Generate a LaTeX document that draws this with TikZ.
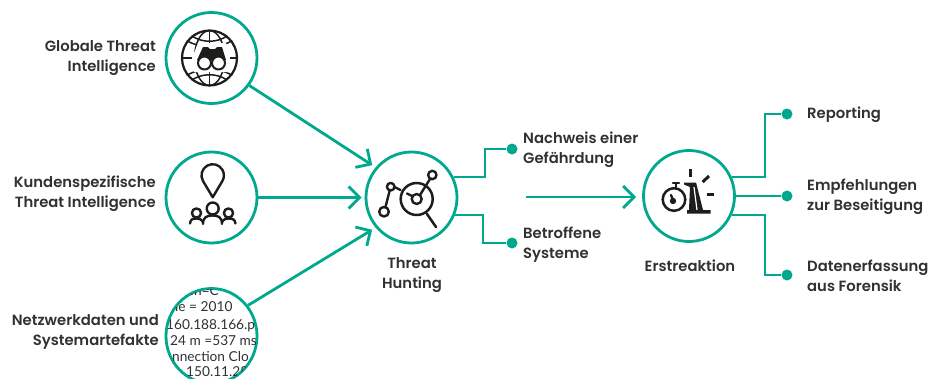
\documentclass[tikz,border=0pt]{standalone}
\usepackage{fontspec}
\setmainfont{Poppins SemiBold}
\newfontfamily\logfont{Lato}
\usetikzlibrary{arrows.meta,shapes.geometric}
\definecolor{kgreen}{HTML}{00A88E}
\definecolor{ktext}{HTML}{2F3133}
\definecolor{kicon}{HTML}{1D1D1B}
\tikzset{
  hub/.style={circle,draw=kgreen,line width=2.8pt,fill=white,minimum size=91pt,inner sep=0pt},
  ovalhub/.style={ellipse,draw=kgreen,line width=2.8pt,fill=white,minimum width=91pt,minimum height=95pt,inner sep=0pt},
  conn/.style={draw=kgreen,line width=2.8pt},
  arr/.style={conn,-{Straight Barb[length=11pt,width=22pt,line width=2.8pt]}},
  enddot/.style={circle,fill=kgreen,minimum size=11pt,inner sep=0pt},
  lab/.style={font=\fontsize{14.8pt}{20pt}\selectfont,text=ktext,inner sep=0pt},
  labr/.style={lab,anchor=east,align=right},
  labl/.style={lab,anchor=west,align=left},
  labc/.style={lab,anchor=center,align=center},
  ico/.style={draw=kicon,line width=2.4pt,line cap=round,line join=round},
  logt/.style={font=\logfont\fontsize{13.7pt}{14pt}\selectfont,text=ktext,inner sep=0pt,anchor=base west},
}
\begin{document}
\begin{tikzpicture}[x=1pt,y=-1pt]
\useasboundingbox (0,0) rectangle (930,378);
% hubs
\node[hub] (c1) at (211.5,58) {};
\node[hub] (c2) at (211.5,197.5) {};
\node[ovalhub] (c3) at (211.5,336) {};
\node[hub] (c4) at (411.5,197.5) {};
\node[hub] (c5) at (689,196) {};
% log text in hub 3
\begin{scope}
\clip (211.5,336) ellipse (44.8pt and 47pt);
\node[logt] (l1) at (188,295.5) {sn=C};
\node[logt] (l2) at (175,311) {ie = 2010};
\node[logt] (l3) at (166,329) {160.188.166.p};
\node[logt] (l4) at (170,345) {24 m =537 ms};
\node[logt] (l5) at (172,361) {nnection Clo};
\node[logt] (l6) at (186,376.5) {150.11.28};
\end{scope}
% endpoints
\node[enddot] (d1) at (512,149) {};
\node[enddot] (d2) at (512,243) {};
\node[enddot] (d3) at (787,114) {};
\node[enddot] (d4) at (787,196) {};
\node[enddot] (d5) at (787,275) {};
\coordinate (m1) at (526,197);
% arrows
\draw[arr,shorten >=4pt] (c1.-36.5) -- (c4.140);
\draw[arr,shorten >=3pt] (c2.east) -- (c4.west);
\draw[arr,shorten >=4pt] (c3.40) -- (c4.220);
\draw[arr,shorten >=6pt] (m1) -- (m1-|c5.west);
% branches
\draw[conn] (c4.26) -| (485,149) -- (d1);
\draw[conn] (c4.-22) -| (483,243) -- (d2);
\draw[conn] (c5.24) -| (765,114) -- (d3);
\draw[conn] (c5.east) -- (d4);
\draw[conn] (c5.-24) -| (765,275) -- (d5);
% labels
\node[labr] (t1) at (156,58) {Globale Threat\\Intelligence};
\node[labr] (t2) at (156,194) {Kundenspezifische\\Threat Intelligence};
\node[labr] (t3) at (159,331.5) {Netzwerkdaten und\\Systemartefakte};
\node[labc] (t4) at (412,275) {Threat\\Hunting};
\node[labl] (t5) at (523,150) {Nachweis einer\\Gefährdung};
\node[labl] (t6) at (523,245) {Betroffene\\Systeme};
\node[labc] (t7) at (690,266) {Erstreaktion};
\node[labl] (t8) at (807,115) {Reporting};
\node[labl] (t9) at (807,197) {Empfehlungen\\zur Beseitigung};
\node[labl] (t10) at (807,276) {Datenerfassung\\aus Forensik};
% icon: globe and binoculars
\begin{scope}[ico,line width=1.5pt]
\draw[line width=2.2pt] (209.5,58) circle (27.5pt);
\draw (209.5,58) ellipse (15pt and 27.5pt);
\draw (187,41) .. controls (200,48) and (219,48) .. (232,41);
\draw (187,75) .. controls (200,68) and (219,68) .. (232,75);
\draw (192,36) .. controls (202,43) and (217,43) .. (227,36);
\draw (192,80) .. controls (202,73) and (217,73) .. (227,80);
\draw (209.5,30.5) -- (209.5,85.5);
\draw (182,58) -- (237,58);
\end{scope}
\fill[white] (198,43) -- (226,43) -- (230,58) -- (228,72) -- (194,72) -- (192,58) -- cycle;
\fill[kicon] (203,47) -- (208,47) -- (210,49) -- (215,49) -- (217,47) -- (222,47) -- (226,60) -- (197,60) -- cycle;
\draw[ico,fill=white,line width=2pt] (204.5,63) circle (6.5pt);
\draw[ico,fill=white,line width=2pt] (218.5,63) circle (6.5pt);
% icon: pin and people
\draw[ico] (212.7,197.3) -- (203,181) arc[start angle=210,end angle=-30,radius=11.2pt] -- cycle;
\draw[ico] (196.5,213) circle (4.6pt);
\draw[ico] (228.5,213) circle (4.6pt);
\draw[ico] (212.7,208.5) circle (6pt);
\draw[ico] (190,223.5) .. controls (190.5,219) and (193,218.5) .. (196.5,218.5) .. controls (199,218.5) and (201,219) .. (203,222);
\draw[ico] (235.5,223.5) .. controls (235,219) and (232,218.5) .. (228.5,218.5) .. controls (226,218.5) and (224,219) .. (222,222);
\draw[ico] (203,224) .. controls (203,217) and (207,215.5) .. (212.7,215.5) .. controls (218,215.5) and (222,217) .. (222,224);
% icon: threat hunting
\draw[ico,line width=2.5pt] (416.7,199) circle (16pt);
\draw[ico] (416.7,199) circle (5pt);
\draw[ico,line width=2.5pt] (427,214) -- (436,227);
\draw[ico] (420,195) -- (430,179);
\draw[ico] (432.3,175) circle (4.2pt);
\draw[ico] (407,193.5) -- (412,196);
\draw[ico] (394.5,187) -- (400.5,190);
\draw[ico] (390.7,186.7) circle (3.8pt);
\draw[ico] (384,211.7) circle (4.8pt);
\draw[ico] (389.7,190.5) -- (385.5,207);
% icon: first response
\draw[ico,line width=2.5pt] (674,199.5) circle (11.3pt);
\draw[ico,line width=2.5pt] (673,183) -- (679,183);
\draw[ico] (676,184) -- (676,187);
\fill[kicon] (673,201) circle (3.2pt);
\draw[ico] (673,200) -- (671,195);
\fill[kicon] (684,182.5) -- (696,182.5) -- (703,210) -- (710.5,210) -- (710.5,213.5) -- (687,213.5) -- (687,210) -- (689,210) -- (690,187) -- (684,184.5) -- cycle;
\draw[white,line width=1.2pt] (694,187) -- (697,210);
\draw[ico,line width=3pt,line cap=butt] (690,169) -- (690,177);
\draw[ico,line width=3pt,line cap=butt] (702.7,182) -- (709,176);
\draw[ico,line width=3pt,line cap=butt] (707.3,194) -- (714,194);
\end{tikzpicture}
\end{document}
